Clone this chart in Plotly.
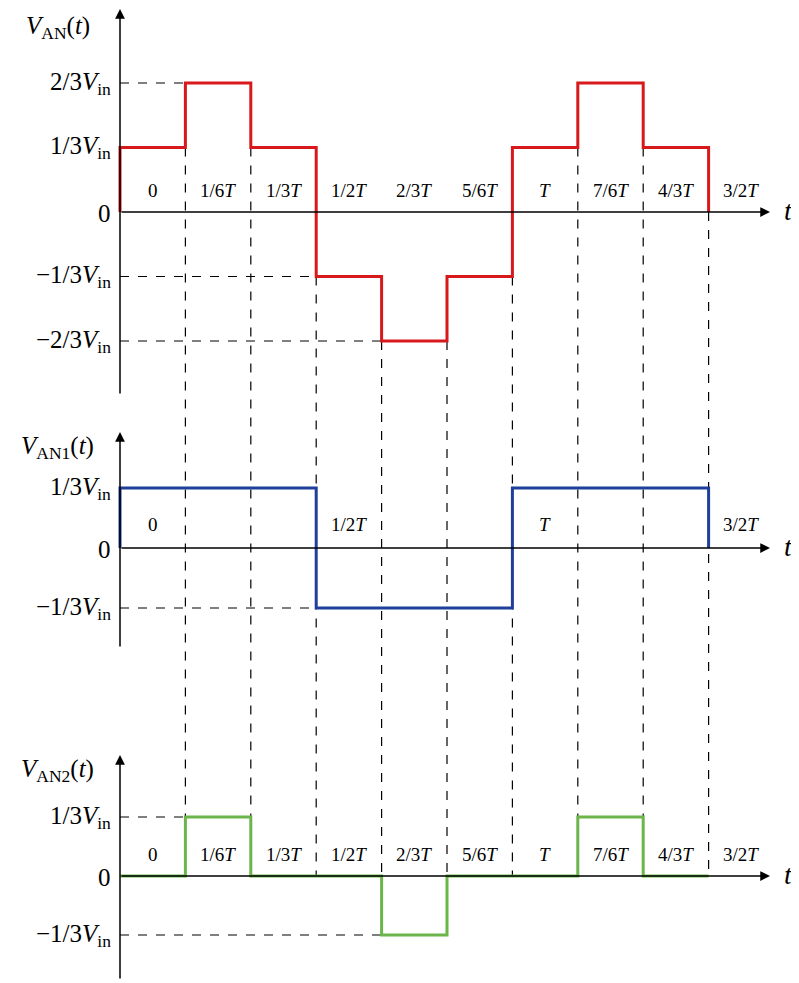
import plotly.graph_objects as go

# levels in units of Vin/3, one per 1/6T interval
steps = [0, 1, 2, 3, 4, 5, 6, 7, 8, 9]
van = [1, 2, 1, -1, -2, -1, 1, 2, 1]
van1 = [1, 1, 1, -1, -1, -1, 1, 1, 1]
van2 = [0, 1, 0, 0, -1, 0, 0, 1, 0]
interval_labels = ["0", "1/6<i>T</i>", "1/3<i>T</i>", "1/2<i>T</i>", "2/3<i>T</i>", "5/6<i>T</i>",
                   "<i>T</i>", "7/6<i>T</i>", "4/3<i>T</i>", "3/2<i>T</i>"]
mid_labels = {0: "0", 3: "1/2<i>T</i>", 6: "<i>T</i>", 9: "3/2<i>T</i>"}
lvl_text = {2: "2/3<i>V</i><sub>in</sub>", 1: "1/3<i>V</i><sub>in</sub>", 0: "0",
            -1: "\u22121/3<i>V</i><sub>in</sub>", -2: "\u22122/3<i>V</i><sub>in</sub>"}

W, H = 799, 983
OFF = 8  # page body margin
X0, DX = 120 - OFF, 65.4
# (zero pixel, pixels per Vin/3) for the three panels
panels = [(212 - OFF, 64.5), (548 - OFF, 60), (876 - OFF, 59)]
FONT = "Liberation Serif"

def yrange(z, u):
    return [(z - H) / u, z / u]

def py(panel, v):
    z, u = panels[panel]
    return 1 - (z - u * v) / H

fig = go.Figure()
colors = ["#d8191c", "#1f3f9a", "#6bb54a"]
names = ["y", "y2", "y3"]
for i, lv in enumerate([van, van1, van2]):
    xs = [0, 0] + steps[1:] + [9]
    ys = [0] + lv + [lv[-1], 0]
    fig.add_trace(go.Scatter(x=xs, y=ys, mode="lines", line_shape="hv",
                             line=dict(color=colors[i], width=3), yaxis=names[i],
                             showlegend=False, hoverinfo="skip"))

ann = []
shapes = []
dash = dict(color="black", width=1.2, dash="dash")

# vertical dashed guides
for t in steps[1:]:
    if t < 9:
        top = min(van[t - 1], van[t])
        bot = min(van2[t - 1], van2[t], 0)
    else:
        top, bot = 0, 0
    shapes.append(dict(type="line", xref="x", yref="paper", x0=t, x1=t, layer="below",
                       y0=py(0, top), y1=py(2, bot), line=dash))

# horizontal dashed guides
for p, v, t in [(0, 2, 1), (0, -1, 3), (0, -2, 4), (1, -1, 3), (2, 1, 1), (2, -1, 4)]:
    shapes.append(dict(type="line", xref="x", yref="paper", x0=0, x1=t, layer="below",
                       y0=py(p, v), y1=py(p, v), line=dash))

# axes with arrows
axis_spans = [(395 - OFF, 5 - OFF + 2), (648 - OFF, 432 - OFF), (980 - OFF, 755 - OFF)]
titles = ["<i>V</i><sub>AN</sub>(<i>t</i>)", "<i>V</i><sub>AN1</sub>(<i>t</i>)",
          "<i>V</i><sub>AN2</sub>(<i>t</i>)"]
title_shift = [-3, 3, 3]
t_end = (770 - 120) / DX
arrow = dict(showarrow=True, arrowhead=2, arrowsize=1.3, arrowwidth=1.5,
             arrowcolor="black", text="")
txt = dict(showarrow=False, xref="x", yref="paper", yanchor="middle")
for p, (b, tp) in enumerate(axis_spans):
    ann.append(dict(xref="x", yref="paper", x=0, y=1 - tp / H, ax=0, ay=b - tp, **arrow))
    ann.append(dict(xref="x", yref="paper", x=t_end, y=py(p, 0), ax=-t_end * DX, ay=0,
                    **arrow))
    ann.append(dict(x=(788 - 120) / DX, y=py(p, 0), yshift=2,
                    text="<i>t</i>", font=dict(size=28), **txt))
    ann.append(dict(x=-0.95, y=1 - (tp + 18) / H, yshift=title_shift[p],
                    text=titles[p], font=dict(size=25), **txt))

# level labels
for p, lvls in enumerate([[2, 1, 0, -1, -2], [1, 0, -1], [1, 0, -1]]):
    for v in lvls:
        ann.append(dict(x=-0.1, y=py(p, v), yshift=0 if v != 0 else -1,
                        text=lvl_text[v], xanchor="right", font=dict(size=25), **txt))

# interval labels
for p in [0, 2]:
    for t, s in enumerate(interval_labels):
        ann.append(dict(x=t + 0.5, y=py(p, 0) + 22 / H, text=s,
                        font=dict(size=19), **txt))
for t, s in mid_labels.items():
    ann.append(dict(x=t + 0.5, y=py(1, 0) + 24 / H, text=s,
                    font=dict(size=19), **txt))

ax_off = dict(visible=False, fixedrange=True)
fig.update_layout(
    width=W, height=H, margin=dict(l=0, r=0, t=0, b=0),
    plot_bgcolor="white", paper_bgcolor="white",
    font=dict(family=FONT, color="black"),
    xaxis=dict(range=[-X0 / DX, (W - X0) / DX], **ax_off),
    yaxis=dict(range=yrange(*panels[0]), **ax_off),
    yaxis2=dict(range=yrange(*panels[1]), overlaying="y", **ax_off),
    yaxis3=dict(range=yrange(*panels[2]), overlaying="y", **ax_off),
    shapes=shapes, annotations=ann,
)
fig.write_html("out.html")
